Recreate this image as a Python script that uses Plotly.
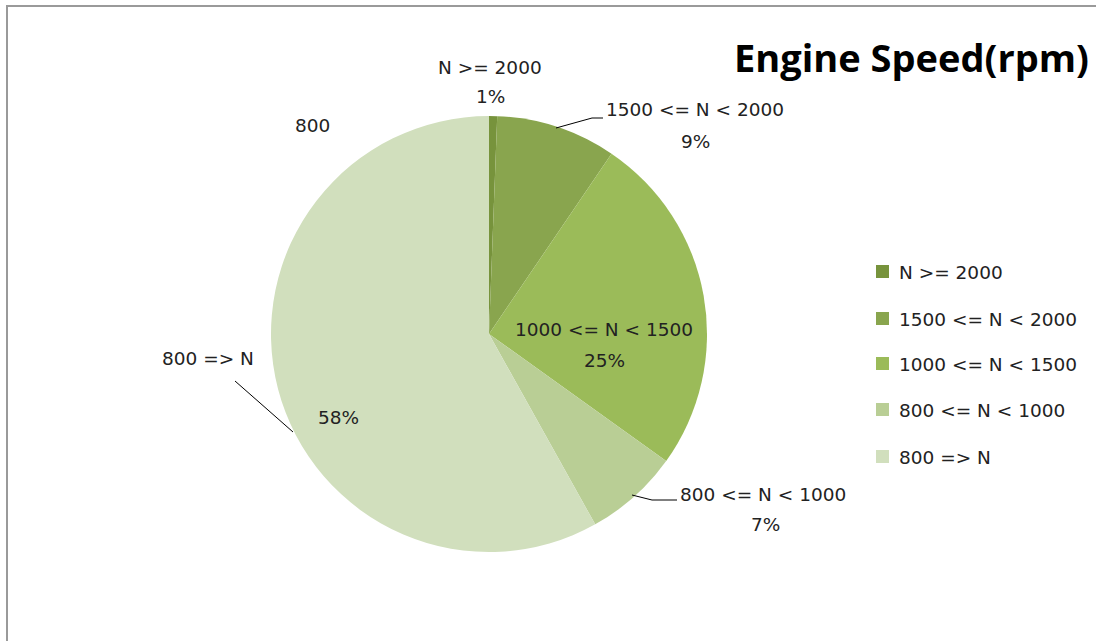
import plotly.graph_objects as go

W, H = 1096, 641

categories = ["N >= 2000", "1500 <= N < 2000", "1000 <= N < 1500", "800 <= N < 1000", "800 => N"]
shares = [0.6, 8.9, 25.4, 7.0, 58.1]
colors = ["#77933C", "#89A54E", "#9BBB59", "#B9CE95", "#D1DFBD"]
title_text = "Engine Speed(rpm)"
stray_label = "800"

FONT = "DejaVu Sans, sans-serif"
FS = 18.5

def px(x):
    return x / W

def py(y):
    return 1 - y / H

total = sum(shares)
pcts = [f"{round(v / total * 100)}%" for v in shares]

cx, cy, r = 489, 334, 218

fig = go.Figure(go.Pie(
    labels=categories,
    values=shares,
    sort=False,
    direction="clockwise",
    rotation=0,
    marker=dict(colors=colors, line=dict(width=0)),
    textinfo="none",
    hoverinfo="label+percent",
    showlegend=False,
    domain=dict(x=[px(cx - r), px(cx + r)], y=[py(cy + r), py(cy - r)]),
))

annotations = []

def add_text(x, y, text, size=FS):
    annotations.append(dict(x=px(x), y=py(y), xref="paper", yref="paper", text=text,
                            showarrow=False, xanchor="center", yanchor="middle",
                            font=dict(family=FONT, size=size, color="#222222")))

# data labels (category name line, percentage line)
label_pos = [
    ((490, 67), (490, 97)),
    ((695, 110), (695, 141)),
    ((604, 329), (604, 360)),
    ((763, 494), (765, 524)),
    ((208, 358), (338, 417)),
]
for cat, pct, (p1, p2) in zip(categories, pcts, label_pos):
    add_text(p1[0], p1[1], cat)
    add_text(p2[0], p2[1], pct)

add_text(312, 125, stray_label)

# title
annotations.append(dict(x=px(1091), y=py(57), xref="paper", yref="paper", text=f"<b>{title_text}</b>",
                        showarrow=False, xanchor="right", yanchor="middle",
                        font=dict(family="Open Sans, Lato, sans-serif", size=38, color="#000000")))

shapes = []
# frame border
shapes.append(dict(type="rect", xref="paper", yref="paper", x0=px(7), y0=py(700), x1=px(1200), y1=py(6),
                   line=dict(color="#9A9A9A", width=2), fillcolor="rgba(0,0,0,0)", layer="below"))

# leader lines
def leader(points):
    path = "M " + " L ".join(f"{px(x)},{py(y)}" for x, y in points)
    shapes.append(dict(type="path", xref="paper", yref="paper", path=path,
                       line=dict(color="#000000", width=1)))

leader([(556, 128), (592, 118), (603, 118)])
leader([(632, 495), (652, 500), (677, 500)])
leader([(235, 381), (293, 432)])

# legend (drawn)
leg_y = [272, 319, 364, 410, 457]
for cat, col, yy in zip(categories, colors, leg_y):
    shapes.append(dict(type="rect", xref="paper", yref="paper",
                       x0=px(876), x1=px(889), y0=py(yy + 6), y1=py(yy - 7),
                       fillcolor=col, line=dict(width=0)))
    annotations.append(dict(x=px(897), y=py(yy), xref="paper", yref="paper", text=cat,
                            showarrow=False, xanchor="left", yanchor="middle",
                            font=dict(family=FONT, size=FS, color="#222222")))

fig.update_layout(
    width=W, height=H,
    margin=dict(l=0, r=0, t=0, b=0),
    paper_bgcolor="white",
    plot_bgcolor="white",
    annotations=annotations,
    shapes=shapes,
    showlegend=False,
)

fig.write_html("out.html", config={"displayModeBar": False},
               post_script="document.body.style.margin='0px';document.body.style.overflow='hidden';")
